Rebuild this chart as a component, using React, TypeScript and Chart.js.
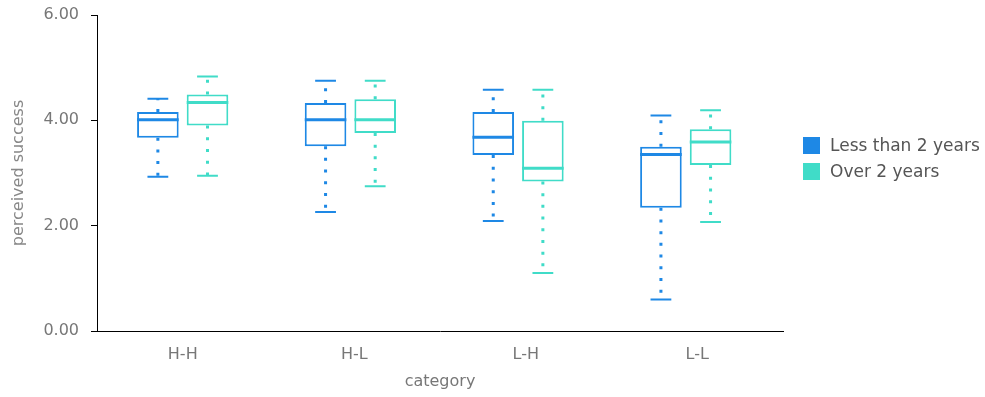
import React, { useEffect, useRef } from "react";
import { Chart, registerables } from "chart.js";

Chart.register(...registerables);

const categories = ["H-H", "H-L", "L-H", "L-L"];
const seriesNames = ["Less than 2 years", "Over 2 years"];
const seriesColors = ["#1E88E5", "#40DCC8"];

const lessMin = [2.93, 2.26, 2.09, 0.6];
const lessQ1 = [3.67, 3.51, 3.34, 2.34];
const lessMedian = [4.01, 4.01, 3.68, 3.35];
const lessQ3 = [4.16, 4.33, 4.16, 3.5];
const lessMax = [4.41, 4.75, 4.58, 4.09];

const overMin = [2.95, 2.75, 1.1, 2.07];
const overQ1 = [3.9, 3.76, 2.84, 3.15];
const overMedian = [4.34, 4.01, 3.09, 3.59];
const overQ3 = [4.49, 4.4, 3.99, 3.83];
const overMax = [4.83, 4.75, 4.58, 4.19];

const yTicks = [0, 2, 4, 6];

const FONT = "'DejaVu Sans', sans-serif";

const boxPlugin = {
  id: "boxWhiskers",
  beforeDatasetsDraw(chart: any) {
    const ctx = chart.ctx;
    const y = chart.scales.y;
    chart.data.datasets.forEach((ds: any, i: number) => {
      const meta = chart.getDatasetMeta(i);
      meta.data.forEach((el: any, j: number) => {
        const x = el.x;
        const w = el.width;
        const pMin = y.getPixelForValue(ds.statMin[j]);
        const pMax = y.getPixelForValue(ds.statMax[j]);
        const pQ1 = y.getPixelForValue(ds.statQ1[j]);
        const pQ3 = y.getPixelForValue(ds.statQ3[j]);
        ctx.save();
        ctx.strokeStyle = ds.borderColor;
        ctx.lineWidth = 3;
        ctx.lineCap = "butt";
        ctx.setLineDash([3, 8.7]);
        ctx.beginPath();
        ctx.moveTo(x, pQ3);
        ctx.lineTo(x, pMax);
        ctx.stroke();
        ctx.beginPath();
        ctx.moveTo(x, pQ1);
        ctx.lineTo(x, pMin);
        ctx.stroke();
        ctx.setLineDash([]);
        ctx.lineWidth = 2;
        const cw = w * 0.5;
        ctx.beginPath();
        ctx.moveTo(x - cw / 2, pMax);
        ctx.lineTo(x + cw / 2, pMax);
        ctx.moveTo(x - cw / 2, pMin);
        ctx.lineTo(x + cw / 2, pMin);
        ctx.stroke();
        ctx.restore();
      });
    });
  },
  afterDatasetsDraw(chart: any) {
    const ctx = chart.ctx;
    const y = chart.scales.y;
    chart.data.datasets.forEach((ds: any, i: number) => {
      const meta = chart.getDatasetMeta(i);
      meta.data.forEach((el: any, j: number) => {
        const x = el.x;
        const w = el.width;
        const pMed = y.getPixelForValue(ds.statMedian[j]);
        ctx.save();
        ctx.strokeStyle = ds.borderColor;
        ctx.lineWidth = 3;
        ctx.beginPath();
        ctx.moveTo(x - w / 2, pMed);
        ctx.lineTo(x + w / 2, pMed);
        ctx.stroke();
        ctx.restore();
      });
    });
  },
  afterDraw(chart: any) {
    const ctx = chart.ctx;
    const area = chart.chartArea;
    const left = area.right + 20;
    const top = 137;
    const box = 17;
    const row = 26;
    ctx.save();
    ctx.font = `17px ${FONT}`;
    ctx.textBaseline = "middle";
    ctx.textAlign = "left";
    chart.data.datasets.forEach((ds: any, i: number) => {
      const yy = top + i * row;
      ctx.fillStyle = ds.borderColor;
      ctx.fillRect(left, yy, box, box);
      ctx.fillStyle = "#555";
      ctx.fillText(ds.label, left + box + 10, yy + box / 2 + 1);
    });
    ctx.restore();
  },
};

export default function App() {
  const ref = useRef<HTMLCanvasElement | null>(null);
  useEffect(() => {
    if (!ref.current) return;
    const common = {
      backgroundColor: "#ffffff",
      borderWidth: 2,
      borderSkipped: false,
      categoryPercentage: 0.592,
      barPercentage: 0.838,
      xAxisID: "xBox",
    };
    const datasets = [
      {
        ...common,
        label: seriesNames[0],
        data: categories.map((_, j) => ({ x: j, y: [lessQ1[j], lessQ3[j]] })),
        statMin: lessMin,
        statQ1: lessQ1,
        statMedian: lessMedian,
        statQ3: lessQ3,
        statMax: lessMax,
        borderColor: seriesColors[0],
      },
      {
        ...common,
        label: seriesNames[1],
        data: categories.map((_, j) => ({ x: j, y: [overQ1[j], overQ3[j]] })),
        statMin: overMin,
        statQ1: overQ1,
        statMedian: overMedian,
        statQ3: overQ3,
        statMax: overMax,
        borderColor: seriesColors[1],
      },
    ];
    const chart = new Chart(ref.current, {
      type: "bar",
      data: { labels: categories, datasets: datasets as any },
      options: {
        responsive: false,
        animation: false,
        devicePixelRatio: 1,
        layout: { padding: { top: 15, right: 202, left: 0, bottom: 0 } },
        plugins: {
          legend: { display: false },
          tooltip: { enabled: false },
        },
        scales: {
          x: {
            type: "category",
            offset: true,
            grid: { display: false, drawTicks: false },
            border: { display: true, color: "#000", width: 1 },
            ticks: { padding: 14, color: "#777", font: { family: FONT, size: 16 } },
            title: {
              display: true,
              text: "category",
              color: "#777",
              font: { family: FONT, size: 16 },
              padding: { top: 0, bottom: 6 },
            },
            afterFit: (s: any) => {
              s.height = 66;
              s.paddingLeft = 0;
              s.paddingRight = 0;
            },
          },
          xBox: {
            type: "linear",
            display: false,
            min: -0.511,
            max: 3.58,
            offset: false,
            afterBuildTicks: (s: any) => {
              s.ticks = categories.map((_, j) => ({ value: j }));
            },
          },
          y: {
            min: 0,
            max: 6,
            afterBuildTicks: (s: any) => {
              s.ticks = yTicks.map((v) => ({ value: v }));
            },
            grid: {
              drawOnChartArea: false,
              drawTicks: true,
              tickLength: 6,
              color: "#000",
            },
            border: { display: true, color: "#000", width: 1 },
            ticks: {
              padding: 12,
              color: "#777",
              font: { family: FONT, size: 16 },
              callback: (v: any) => Number(v).toFixed(2),
            },
            title: {
              display: true,
              text: "perceived success",
              color: "#888",
              font: { family: FONT, size: 16 },
              padding: { top: 9, bottom: 0 },
            },
            afterFit: (s: any) => {
              s.width = 97;
              s.paddingTop = 0;
              s.paddingBottom = 0;
            },
          },
        },
      } as any,
      plugins: [boxPlugin],
    });
    return () => chart.destroy();
  }, []);
  return (
    <div style={{ position: "fixed", left: 0, top: 0, width: 985, height: 397, background: "#fff" }}>
      <canvas ref={ref} width={985} height={397} style={{ display: "block" }} />
    </div>
  );
}
